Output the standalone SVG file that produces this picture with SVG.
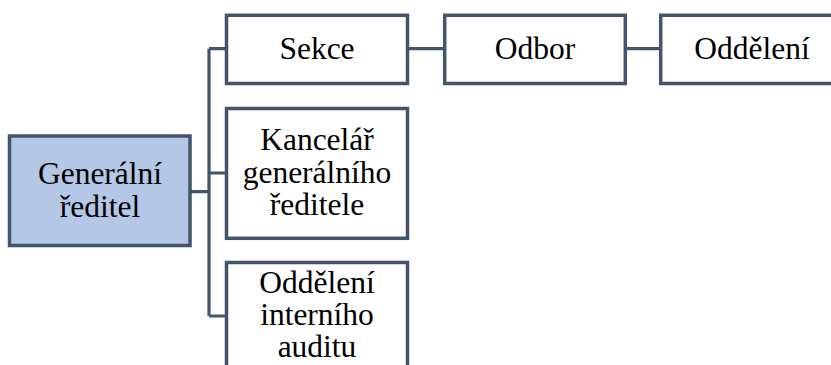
<svg xmlns="http://www.w3.org/2000/svg" width="831" height="365" viewBox="0 0 831 365">
<style>
.box{fill:#ffffff;stroke:#44546A;stroke-width:3.5}
.root{fill:#B4C7E7;stroke:#44546A;stroke-width:3.5}
.conn{fill:none;stroke:#44546A;stroke-width:3.2}
.t{font-family:'Liberation Serif','Times New Roman',serif;font-size:31.5px;fill:#000;text-anchor:middle}
</style>
<rect width="831" height="365" fill="#ffffff"/>
<g id="connectors">
<path class="conn" d="M190 191.7H209M209 48.7V316M209 48.7H226.5M209 173H226.5M209 316H226.5"/>
<path class="conn" d="M407.5 48.7H444.7M625.3 48.7H660.7"/>
</g>
<g id="generalni-reditel">
<rect class="root" x="9.5" y="136" width="180.5" height="109.5"/>
<text class="t" x="100" y="184">Generální</text>
<text class="t" x="100" y="217">ředitel</text>
</g>
<g id="sekce">
<rect class="box" x="226.5" y="15.3" width="181" height="68.2"/>
<text class="t" x="317" y="59">Sekce</text>
</g>
<g id="odbor">
<rect class="box" x="444.7" y="15.3" width="180.6" height="68.2"/>
<text class="t" x="535" y="59">Odbor</text>
</g>
<g id="oddeleni">
<rect class="box" x="660.7" y="15.3" width="185" height="68.2"/>
<text class="t" x="752" y="59">Oddělení</text>
</g>
<g id="kancelar">
<rect class="box" x="226.5" y="108.5" width="181" height="129.8"/>
<text class="t" x="317" y="150">Kancelář</text>
<text class="t" x="317" y="182.5">generálního</text>
<text class="t" x="317" y="215">ředitele</text>
</g>
<g id="interni-audit">
<rect class="box" x="226.5" y="262.5" width="181" height="130"/>
<text class="t" x="317" y="293">Oddělení</text>
<text class="t" x="317" y="325">interního</text>
<text class="t" x="317" y="357">auditu</text>
</g>
</svg>
